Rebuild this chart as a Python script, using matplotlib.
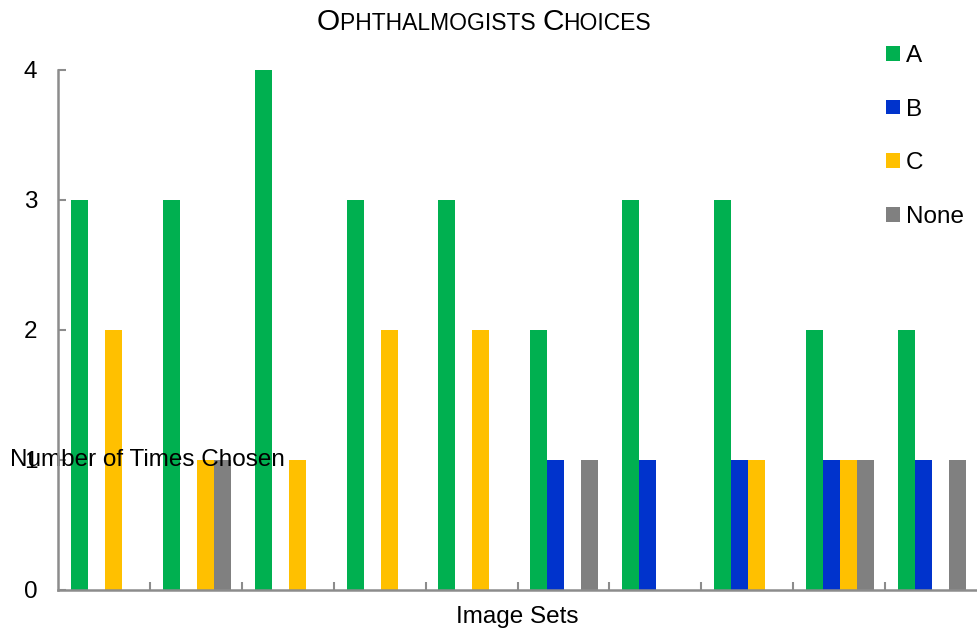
import matplotlib
matplotlib.use("Agg")
import matplotlib.pyplot as plt
import numpy as np
from matplotlib.patches import Patch

plt.rcParams['font.family'] = ['Liberation Sans', 'DejaVu Sans']

# Data: number of times each option was chosen for each image set
image_sets = [f"Set {i}" for i in range(1, 11)]
series_names = ["A", "B", "C", "None"]
counts_a = [3, 3, 4, 3, 3, 2, 3, 3, 2, 2]
counts_b = [0, 0, 0, 0, 0, 1, 1, 1, 1, 1]
counts_c = [2, 1, 1, 2, 2, 0, 0, 1, 1, 0]
counts_none = [0, 1, 0, 0, 0, 1, 0, 0, 1, 1]
y_ticks = [0, 1, 2, 3, 4]

colors = ["#00B050", "#0033CC", "#FFC000", "#808080"]
axis_grey = "#8C8C8C"

fig = plt.figure(figsize=(9.77, 6.32), dpi=100)
ax = fig.add_axes([58 / 977, 42 / 632, 1 - 58 / 977, 520 / 632])

x = np.arange(len(image_sets))
width = 0.185
series = [counts_a, counts_b, counts_c, counts_none]
for i, (vals, col, name) in enumerate(zip(series, colors, series_names)):
    ax.bar(x + (i - 1.5) * width + 0.01, vals, width=width, color=col,
           edgecolor="none", label=name)

ax.set_xlim(-0.5, len(image_sets) - 0.5)
ax.set_ylim(0, 4)
ax.set_yticks(y_ticks)
ax.set_yticklabels([str(v) for v in y_ticks], fontsize=17.5)

# category boundary ticks
ax.set_xticks(np.arange(0.5, len(image_sets) - 0.5, 1.0))
ax.set_xticklabels([])
ax.tick_params(axis="x", direction="in", length=6, width=1.5, color=axis_grey)
ax.tick_params(axis="y", direction="in", length=6, width=1.5, color=axis_grey,
               pad=15)

for side in ["top", "right"]:
    ax.spines[side].set_visible(False)
for side in ["left", "bottom"]:
    ax.spines[side].set_color(axis_grey)
    ax.spines[side].set_linewidth(1.8)

ax.set_xlabel("Image Sets", fontsize=17.5, labelpad=8)
ax.set_ylabel("Number of Times Chosen", fontsize=17.5, rotation=0,
              ha="left", va="center")
ax.yaxis.set_label_coords(-48 / 919, 0.25)

# Legend in the upper right
handles = [Patch(facecolor=c, edgecolor="none", label=n)
           for c, n in zip(colors, series_names)]
fig.legend(handles=handles, loc="upper left",
           bbox_to_anchor=(874 / 977, 1 - 33 / 632), frameon=False,
           fontsize=17.5, handlelength=0.55, handleheight=0.55,
           handletextpad=0.25, labelspacing=1.3, borderpad=0)

# Small-caps title assembled from pieces
pieces = [("O", 21.5), ("PHTHALMOGISTS ", 16.5), ("C", 21.5), ("HOICES", 16.5)]
texts = [fig.text(0, 1 - 30 / 632, s, fontsize=fs, ha="left", va="baseline")
         for s, fs in pieces]
fig.canvas.draw()
renderer = fig.canvas.get_renderer()
widths = [t.get_window_extent(renderer).width for t in texts]
total = sum(widths)
start = 484 - total / 2
for t, w in zip(texts, widths):
    t.set_x(start / 977)
    start += w

fig.savefig("out.png", dpi=100)
